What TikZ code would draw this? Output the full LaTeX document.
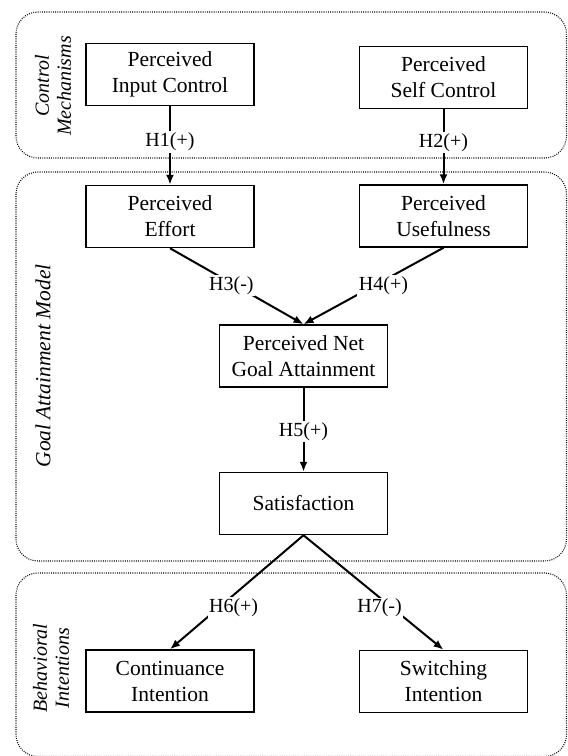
\documentclass[tikz,border=0pt]{standalone}
\usepackage{fontspec}
\setmainfont{Liberation Serif}
\usetikzlibrary{arrows.meta}
\begin{document}
\begin{tikzpicture}[x=1pt,y=-1pt,
  grp/.style={line width=1.1pt, dash pattern=on 0.9pt off 1.3pt, rounded corners=22pt},
  box/.style={draw, line width=1.5pt, minimum width=168pt, minimum height=62pt, align=center, inner sep=2pt,
    font=\fontsize{21.5}{26}\selectfont},
  conn/.style={line width=2pt, -{Latex[length=10pt,width=8pt]}},
  hlab/.style={fill=white, inner sep=1.5pt, font=\fontsize{20}{24}\selectfont},
  grplab/.style={rotate=90, align=center, font=\fontsize{20}{22}\selectfont\itshape}]
\useasboundingbox (0,0) rectangle (568,756);
% group frames
\draw[grp] (16,12) rectangle (566.5,158);
\draw[grp] (16,172) rectangle (566.5,561);
\draw[grp] (16,573) rectangle (566.5,756.5);
% group labels
\node[grplab] (lcm) at (53,86) {Control\\Mechanisms};
\node[grplab, font=\fontsize{21.5}{24}\selectfont\itshape] (lgam) at (43,366) {Goal Attainment Model};
\node[grplab] (lbi) at (51,668) {Behavioral\\Intentions};
% boxes
\node[box] (inputc) at (170,74.5) {Perceived\\Input Control};
\node[box] (selfc) at (443.5,77.5) {Perceived\\Self Control};
\node[box] (effort) at (170,216.5) {Perceived\\Effort};
\node[box] (useful) at (443.5,216) {Perceived\\Usefulness};
\node[box] (net) at (303.5,356) {Perceived Net\\Goal Attainment};
\node[box] (satis) at (303.5,503.5) {Satisfaction};
\node[box] (cont) at (170,681) {Continuance\\Intention};
\node[box] (switch) at (443.5,681.5) {Switching\\Intention};
% connectors
\draw[conn] (inputc.south) -- node[hlab, pos=0.455] (h1) {H1(+)} (effort.north);
\draw[conn] (selfc.south) -- node[hlab, pos=0.44] (h2) {H2(+)} (useful.north);
\draw[conn] (effort.south) -- node[hlab, pos=0.49, xshift=-4pt] (h3) {H3(-)} (net.north);
\draw[conn] (useful.south) -- node[hlab, pos=0.5, xshift=10pt] (h4) {H4(+)} (net.north);
\draw[conn] (net.south) -- node[hlab, pos=0.52] (h5) {H5(+)} (satis.north);
\draw[conn] (satis.south) -- node[hlab, pos=0.636, xshift=15pt] (h6) {H6(+)} (cont.north);
\draw[conn] (satis.south) -- node[hlab, pos=0.636, xshift=-13pt] (h7) {H7(-)} (switch.north);
\end{tikzpicture}
\end{document}
